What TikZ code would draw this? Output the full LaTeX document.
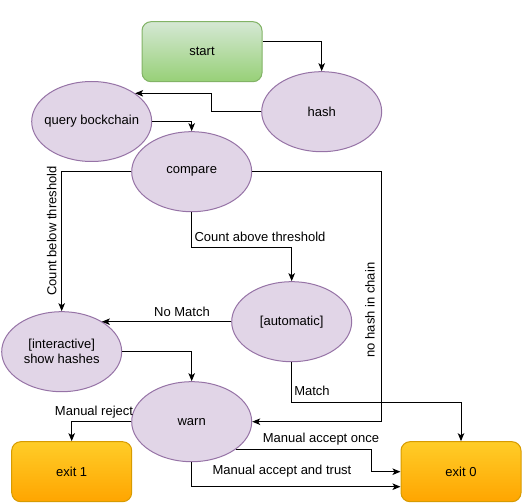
\documentclass[tikz,border=0pt]{standalone}
\usepackage{fontspec}
\setmainfont{Liberation Sans}
\usetikzlibrary{shapes.geometric,arrows.meta}
\definecolor{lilac}{HTML}{E1D5E7}
\definecolor{lilacline}{HTML}{9673A6}
\definecolor{gtop}{HTML}{D5E8D4}
\definecolor{gbot}{HTML}{97D077}
\definecolor{gline}{HTML}{82B366}
\definecolor{otop}{HTML}{FFCD28}
\definecolor{obot}{HTML}{FFA500}
\definecolor{oline}{HTML}{D79B00}
\tikzset{
  every node/.style={font=\fontsize{13}{15}\selectfont},
  state/.style={ellipse, draw=lilacline, fill=lilac, line width=1pt, minimum width=120pt, minimum height=80pt, inner xsep=-25pt, inner ysep=0pt, align=center},
  startbox/.style={rectangle, rounded corners=9pt, draw=gline, top color=gtop, bottom color=gbot, line width=1pt, minimum width=120pt, minimum height=60pt, inner sep=0pt},
  exitbox/.style={rectangle, rounded corners=9pt, draw=oline, top color=otop, bottom color=obot, line width=1pt, minimum width=120pt, minimum height=60pt, inner sep=0pt},
  arr/.style={draw=black, line width=1pt, -{Stealth[length=8pt,width=6.5pt,inset=2pt]}},
  lbl/.style={inner sep=1pt, fill=white}
}
\begin{document}
\begin{tikzpicture}[x=1pt,y=-1pt]
\useasboundingbox (0,0) rectangle (523,503);
\node[startbox] (start) at (202,51.7) {start};
\node[state] (hash) at (321.7,111.7) {hash};
\node[state] (query) at (91.7,121.5) {query bockchain};
\node[state] (compare) at (191.7,171.7) {compare};
\node[state] (auto) at (291.7,321.7) {[automatic]};
\node[state] (inter) at (61.7,351.7) {[interactive]\\show hashes};
\node[state] (warn) at (191.7,421.7) {warn};
\node[exitbox] (exitone) at (71.7,471.7) {exit 1};
\node[exitbox] (exitzero) at (461,471.7) {exit 0};

\draw[arr] ([yshift=10.5pt]start.east) -| (hash.north);
\draw[arr] (hash.west) -- ++(-50,0) |- (query.33);
\draw[arr] (query.east) -| (compare.north);
\draw[arr] (compare.west) -| (inter.north);
\draw[arr] (compare.south) -- ++(0,35) -| (auto.north);
\draw[arr] (compare.east) -- ++(129.3,0) |- (warn.east);
\draw[arr] (auto.west) -- (auto.west -| inter.37);
\draw[arr] (inter.east) -| (warn.north);
\draw[arr] (auto.south) -- ++(0,40) -| (exitzero.north);
\draw[arr] (warn.west) -| (exitone.north);
\draw[arr] (warn.-32) -- ++(136,0) |- (exitzero.west);
\draw[arr] (warn.south) |- ([yshift=-15pt]exitzero.west);

\node[lbl, rotate=90] (lcb) at (51.7,231) {Count below threshold};
\node[lbl] (lca) at (260,237) {Count above threshold};
\node[lbl, rotate=90] (lnh) at (370,310) {no hash in chain};
\node[lbl] (lnm) at (182,311.7) {No Match};
\node[lbl] (lm) at (312,391) {Match};
\node[inner sep=1pt] (lmr) at (94,411.7) {Manual reject};
\node[lbl] (lmo) at (321,439.3) {Manual accept once};
\node[lbl] (lmt) at (282,471) {Manual accept and trust};
\end{tikzpicture}
\end{document}
